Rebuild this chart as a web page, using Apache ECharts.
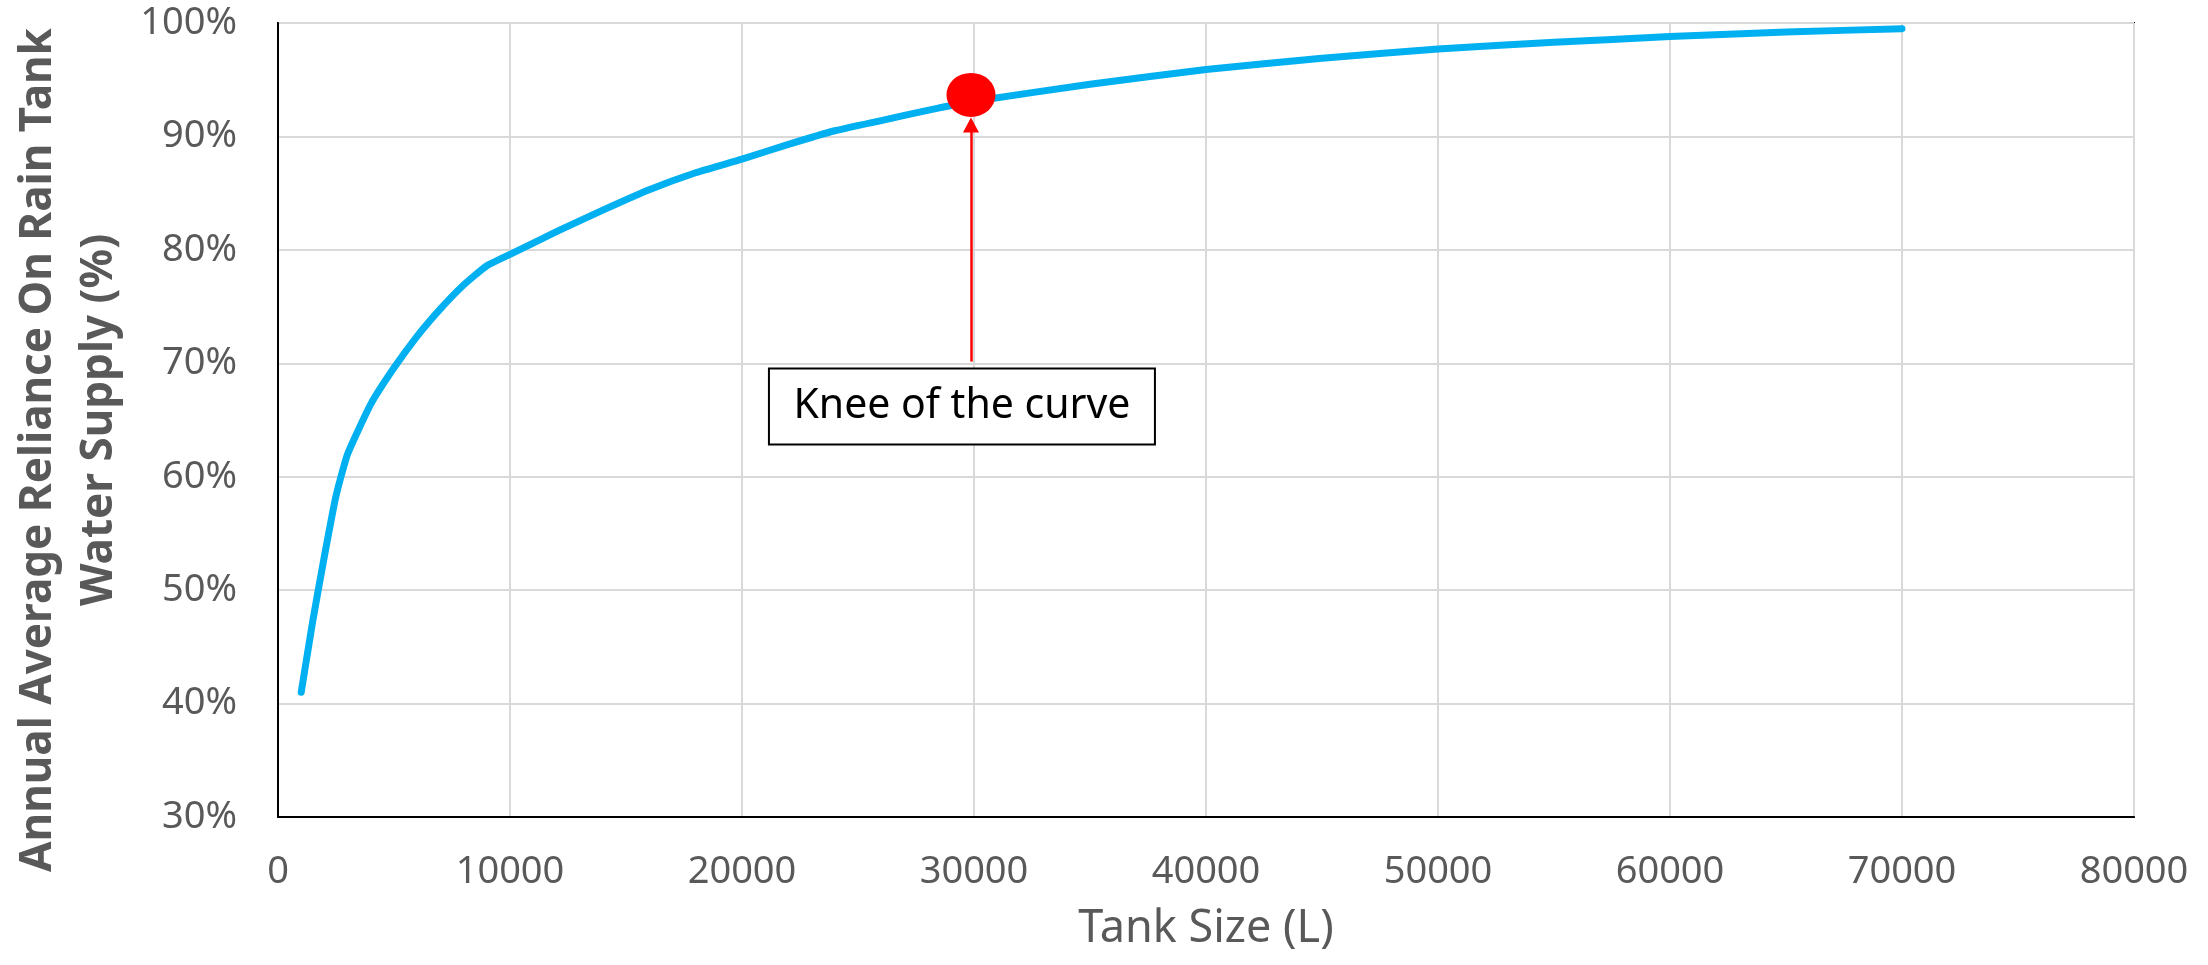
<!DOCTYPE html>
<html>
<head>
<meta charset="utf-8">
<title>Tank Size vs Reliance</title>
<script src="https://cdn.jsdelivr.net/npm/echarts@6/dist/echarts.min.js"></script>
<style>
  html, body { margin: 0; padding: 0; background: #fff; }
  #main { width: 2208px; height: 965px; }
</style>
</head>
<body>
<div id="main"></div>
<script type="text/javascript">
// tank size (L) and annual average reliance (%)
var tankSize = [1000, 1500, 2000, 2500, 3000, 4000, 5000, 6000, 7000, 8000, 9000, 10000,
  12000, 14000, 16000, 18000, 20000, 22000, 24000, 26000, 28000, 30000,
  35000, 40000, 45000, 50000, 55000, 60000, 65000, 70000];
var reliance = [41.0, 47.3, 53.0, 58.3, 62.0, 66.4, 69.6, 72.4, 74.8, 76.9, 78.6, 79.6,
  81.6, 83.5, 85.3, 86.8, 88.0, 89.3, 90.5, 91.4, 92.3, 93.1,
  94.6, 95.9, 96.9, 97.7, 98.3, 98.8, 99.2, 99.5];

// knee annotation
var kneePoint = [29870, 93.66];
var arrowFrom = [29870, 70.15];
var arrowTo = [29870, 91.0];
var notePos = [29480, 66.2];
var noteText = 'Knee of the curve';

var yTitle1 = 'Annual Average Reliance On Rain Tank';
var yTitle2 = 'Water Supply (%)';
var xTitle = 'Tank Size (L)';

var font = '"Noto Sans", "Open Sans", sans-serif';
var grey = '#595959';

var myChart = echarts.init(document.getElementById('main'));

var lineData = [];
for (var i = 0; i < tankSize.length; i++) {
  lineData.push([tankSize[i], reliance[i]]);
}

var option = {
  animation: false,
  backgroundColor: '#fff',
  grid: {
    left: 278,
    right: 74,
    top: 23,
    bottom: 148,
    show: true,
    borderColor: '#000',
    borderWidth: 2
  },
  xAxis: {
    type: 'value',
    min: 0,
    max: 80000,
    interval: 10000,
    name: xTitle,
    nameLocation: 'middle',
    nameGap: 90,
    nameTextStyle: { fontFamily: font, fontSize: 45, color: grey },
    axisLine: { show: true, lineStyle: { color: '#000', width: 2 } },
    axisTick: { show: false },
    axisLabel: {
      margin: 36, fontFamily: font, fontSize: 38, color: grey,
      formatter: function (v) { return String(v); }
    },
    splitLine: { show: true, lineStyle: { color: '#d9d9d9', width: 2 } }
  },
  yAxis: {
    type: 'value',
    min: 30,
    max: 100,
    interval: 10,
    axisLine: { show: true, lineStyle: { color: '#000', width: 2 } },
    axisTick: { show: false },
    axisLabel: { margin: 41, fontFamily: font, fontSize: 38, color: grey, formatter: '{value}%' },
    splitLine: { show: true, lineStyle: { color: '#d9d9d9', width: 2 } }
  },
  graphic: [
    {
      type: 'text', x: 38, y: 450, rotation: Math.PI / 2,
      style: { text: yTitle1, fontFamily: font, fontSize: 44, fontWeight: 'bold', fill: grey,
        textAlign: 'center', textVerticalAlign: 'middle' }
    },
    {
      type: 'text', x: 99, y: 420, rotation: Math.PI / 2,
      style: { text: yTitle2, fontFamily: font, fontSize: 44, fontWeight: 'bold', fill: grey,
        textAlign: 'center', textVerticalAlign: 'middle' }
    }
  ],
  series: [
    {
      type: 'line',
      data: lineData,
      showSymbol: false,
      symbol: 'none',
      smooth: 0.15,
      lineStyle: { color: '#00B0F0', width: 7, cap: 'round', join: 'round' },
      z: 3,
      markLine: {
        silent: true,
        symbol: ['none', 'triangle'],
        symbolSize: [16, 15],
        label: { show: false },
        lineStyle: { color: '#ff0000', width: 2.5, type: 'solid', opacity: 1 },
        data: [[{ coord: arrowFrom }, { coord: arrowTo }]]
      },
      markPoint: {
        silent: true,
        symbol: 'circle',
        symbolSize: 1,
        itemStyle: { color: 'rgba(0,0,0,0)' },
        label: {
          show: true,
          position: 'inside',
          formatter: noteText,
          fontFamily: font,
          fontSize: 41,
          color: '#000',
          width: 384,
          height: 74,
          lineHeight: 74,
          align: 'center',
          verticalAlign: 'middle',
          backgroundColor: '#fff',
          borderColor: '#000',
          borderWidth: 2
        },
        data: [{ coord: notePos }]
      }
    },
    {
      type: 'scatter',
      data: [kneePoint],
      symbol: 'circle',
      symbolSize: [49, 44],
      itemStyle: { color: '#ff0000', opacity: 1 },
      z: 4
    }
  ]
};

myChart.setOption(option);
</script>
</body>
</html>
